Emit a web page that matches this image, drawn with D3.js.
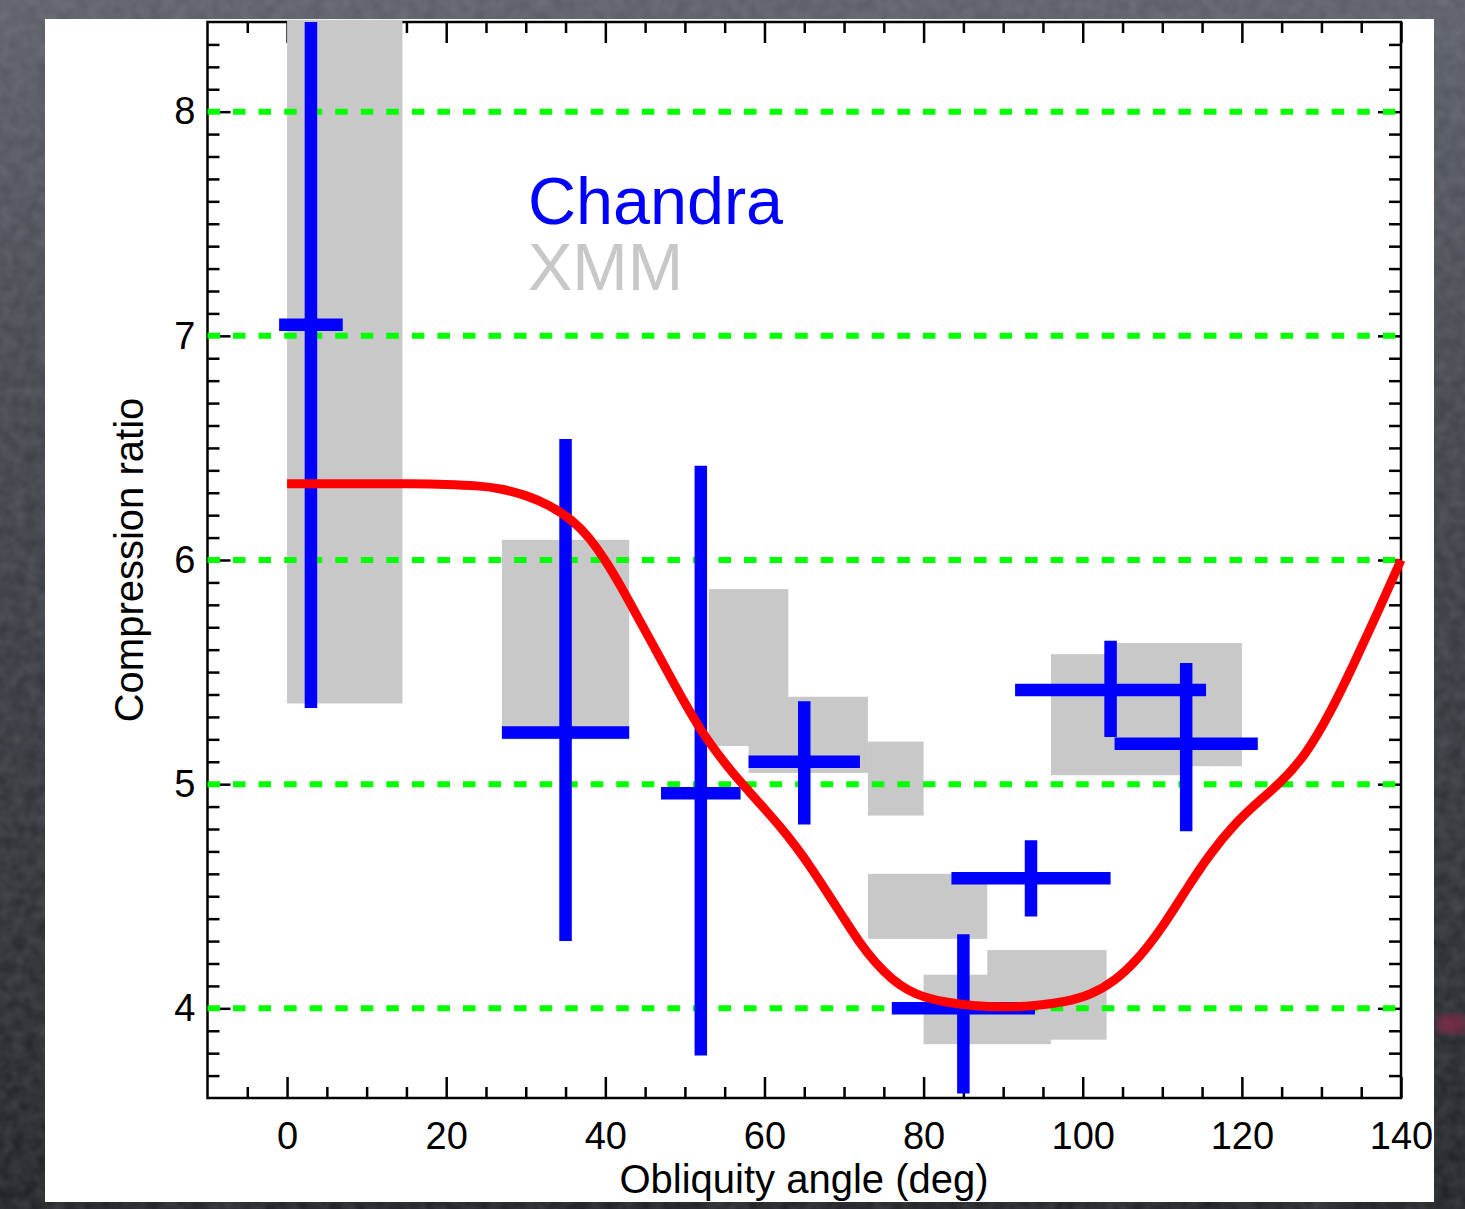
<!DOCTYPE html>
<html>
<head>
<meta charset="utf-8">
<script src="https://cdn.jsdelivr.net/npm/d3@7"></script>
<style>
  html, body { margin: 0; padding: 0; background: #2c2e33; }
  svg { display: block; }
  text { font-family: "Liberation Sans", Arial, Helvetica, sans-serif; }
</style>
</head>
<body>
<svg id="chart" width="1465" height="1209"></svg>
<script>
// ---- data -------------------------------------------------------------
// Chandra measurements: obliquity angle (deg) with range, compression ratio with range
const chandraAngle   = [3, 35, 52, 65, 85, 93.5, 103.5, 113];
const chandraAngleLo = [-1, 27, 47, 58, 76, 83.5, 91.5, 104];
const chandraAngleHi = [7, 43, 57, 72, 94, 103.5, 115.5, 122];
const chandraRatio   = [7.05, 5.23, 4.96, 5.10, 4.00, 4.58, 5.42, 5.18];
const chandraRatioLo = [5.34, 4.30, 3.79, 4.82, 3.62, 4.41, 5.21, 4.79];
const chandraRatioHi = [8.40, 6.54, 6.42, 5.37, 4.33, 4.75, 5.64, 5.54];

// XMM measurements: angle bin and compression-ratio range (boxes)
const xmmAngleLo = [0, 27, 53, 58, 73, 73, 80, 88, 96, 103.5];
const xmmAngleHi = [14.5, 43, 63, 73, 80, 88, 96, 103, 113, 120];
const xmmRatioLo = [5.36, 5.20, 5.17, 5.05, 4.86, 4.31, 3.84, 3.86, 5.04, 5.08];
const xmmRatioHi = [8.41, 6.09, 5.87, 5.39, 5.19, 4.60, 4.15, 4.26, 5.58, 5.63];

// Model curve
const fitAngle = [0, 8, 16, 20, 24, 27, 30, 33, 36, 38, 40, 42, 44, 46, 48, 50, 52, 54, 56, 58, 60,
                  62, 64, 66, 68, 70, 72, 74, 76, 78, 80, 83, 86, 90, 94, 98, 101, 104, 107, 110,
                  113, 116, 119, 122, 125, 128, 131, 134, 137, 140];
const fitRatio = [6.34, 6.34, 6.34, 6.338, 6.332, 6.318, 6.29, 6.245, 6.175, 6.10, 6.00, 5.88, 5.75, 5.62, 5.49, 5.36, 5.24, 5.14, 5.05, 4.97, 4.89,
                  4.81, 4.72, 4.62, 4.51, 4.40, 4.29, 4.20, 4.13, 4.08, 4.05, 4.025, 4.012, 4.005, 4.01, 4.03, 4.06, 4.12, 4.22, 4.36,
                  4.53, 4.69, 4.82, 4.92, 5.01, 5.13, 5.31, 5.53, 5.76, 6.00];

// Axis ticks
const xMajorTicks = [0, 20, 40, 60, 80, 100, 120, 140];
const xTickLabels = ["0", "20", "40", "60", "80", "100", "120", "140"];
const xMinorTicks = d3.range(-5, 140, 5).filter(v => v % 20 !== 0);
const yMajorTicks = [4, 5, 6, 7, 8];
const yTickLabels = ["4", "5", "6", "7", "8"];
const yMinorTicks = d3.range(37, 84).map(v => v / 10).filter(v => Math.abs(v - Math.round(v)) > 1e-6);
const gridLevels  = [4, 5, 6, 7, 8];

const legendLabels = ["Chandra", "XMM"];

// ---- layout -----------------------------------------------------------
const W = 1465, H = 1209;
const svg = d3.select("#chart");

const x = d3.scaleLinear().domain([-10, 140]).range([207.5, 1401]);
const y = d3.scaleLinear().domain([3.6, 8.4]).range([1098, 22]);

const BLUE = "#0000ff", GREY = "#c8c8c8", GREEN = "#00ff00", RED = "#ff0000";

// dark slate background
const defs = svg.append("defs");
const bg = defs.append("linearGradient").attr("id", "bg").attr("x1", 0).attr("y1", 0).attr("x2", 0).attr("y2", 1);
bg.append("stop").attr("offset", "0%").attr("stop-color", "#585c64");
bg.append("stop").attr("offset", "35%").attr("stop-color", "#3d4047");
bg.append("stop").attr("offset", "100%").attr("stop-color", "#1c1d20");
const grain = defs.append("filter").attr("id", "grain").attr("x", 0).attr("y", 0).attr("width", "100%").attr("height", "100%");
grain.append("feTurbulence").attr("type", "fractalNoise").attr("baseFrequency", 0.08).attr("numOctaves", 2).attr("seed", 3);
grain.append("feColorMatrix").attr("type", "matrix")
  .attr("values", "0 0 0 0 0.5  0 0 0 0 0.52  0 0 0 0 0.56  0 0 0 0.22 0");
const smear = defs.append("filter").attr("id", "smear");
smear.append("feGaussianBlur").attr("stdDeviation", 4);

svg.append("rect").attr("width", W).attr("height", H).attr("fill", "url(#bg)");
svg.append("rect").attr("width", W).attr("height", H).attr("filter", "url(#grain)");
svg.append("ellipse").attr("cx", 1452).attr("cy", 1024).attr("rx", 16).attr("ry", 10)
  .attr("fill", "#8a2a4e").attr("opacity", 0.75).attr("filter", "url(#smear)");

// white figure panel
svg.append("rect").attr("x", 45).attr("y", 19).attr("width", 1389).attr("height", 1183).attr("fill", "#ffffff");

// ---- axes (ticks point inward) -----------------------------------------
function styleAxis(g) {
  g.select(".domain").remove();
  g.selectAll(".tick line").attr("stroke", "#000").attr("stroke-width", 2.5);
  g.selectAll(".tick text").attr("fill", "#000").attr("font-size", 38)
    .attr("font-family", "'Liberation Sans', Arial, Helvetica, sans-serif");
}

svg.append("g").attr("transform", `translate(0,${y.range()[0]})`)
  .call(d3.axisBottom(x).tickValues(xMajorTicks).tickSize(-21).tickPadding(24)
    .tickFormat((d, i) => xTickLabels[i]))
  .call(styleAxis);
svg.append("g").attr("transform", `translate(0,${y.range()[0]})`)
  .call(d3.axisBottom(x).tickValues(xMinorTicks).tickSize(-11).tickFormat(""))
  .call(styleAxis);
svg.append("g").attr("transform", `translate(0,${y.range()[1]})`)
  .call(d3.axisTop(x).tickValues(xMajorTicks).tickSize(-21).tickFormat(""))
  .call(styleAxis);
svg.append("g").attr("transform", `translate(0,${y.range()[1]})`)
  .call(d3.axisTop(x).tickValues(xMinorTicks).tickSize(-11).tickFormat(""))
  .call(styleAxis);

svg.append("g").attr("transform", `translate(${x.range()[0]},0)`)
  .call(d3.axisLeft(y).tickValues(yMajorTicks).tickSize(-23).tickPadding(12)
    .tickFormat((d, i) => yTickLabels[i]))
  .call(styleAxis);
svg.append("g").attr("transform", `translate(${x.range()[0]},0)`)
  .call(d3.axisLeft(y).tickValues(yMinorTicks).tickSize(-12).tickFormat(""))
  .call(styleAxis);
svg.append("g").attr("transform", `translate(${x.range()[1]},0)`)
  .call(d3.axisRight(y).tickValues(yMajorTicks).tickSize(-23).tickFormat(""))
  .call(styleAxis);
svg.append("g").attr("transform", `translate(${x.range()[1]},0)`)
  .call(d3.axisRight(y).tickValues(yMinorTicks).tickSize(-12).tickFormat(""))
  .call(styleAxis);

svg.append("rect")
  .attr("x", x.range()[0]).attr("y", y.range()[1])
  .attr("width", x.range()[1] - x.range()[0]).attr("height", y.range()[0] - y.range()[1])
  .attr("fill", "none").attr("stroke", "#000").attr("stroke-width", 2.5);

// axis titles
svg.append("text").attr("x", 804).attr("y", 1193).attr("text-anchor", "middle")
  .attr("font-size", 40).attr("fill", "#000").text("Obliquity angle (deg)");
svg.append("text").attr("transform", "translate(143,560) rotate(-90)").attr("text-anchor", "middle")
  .attr("font-size", 40).attr("fill", "#000").text("Compression ratio");

// ---- XMM boxes --------------------------------------------------------
svg.append("g").selectAll("rect").data(d3.range(xmmAngleLo.length)).join("rect")
  .attr("x", i => x(xmmAngleLo[i]))
  .attr("width", i => x(xmmAngleHi[i]) - x(xmmAngleLo[i]))
  .attr("y", i => y(xmmRatioHi[i]))
  .attr("height", i => y(xmmRatioLo[i]) - y(xmmRatioHi[i]))
  .attr("fill", GREY);

// ---- dashed reference levels ------------------------------------------
svg.append("g").selectAll("line").data(gridLevels).join("line")
  .attr("x1", x.range()[0]).attr("x2", x.range()[1])
  .attr("y1", d => y(d)).attr("y2", d => y(d))
  .attr("stroke", GREEN).attr("stroke-width", 6).attr("stroke-dasharray", "12.5 13.05");

// ---- Chandra error crosses ------------------------------------------
const ch = svg.append("g").attr("stroke", BLUE).attr("stroke-width", 12.5).attr("stroke-linecap", "butt");
ch.selectAll("line.v").data(d3.range(chandraAngle.length)).join("line").attr("class", "v")
  .attr("x1", i => x(chandraAngle[i])).attr("x2", i => x(chandraAngle[i]))
  .attr("y1", i => y(chandraRatioLo[i])).attr("y2", i => y(chandraRatioHi[i]));
ch.selectAll("line.h").data(d3.range(chandraAngle.length)).join("line").attr("class", "h")
  .attr("x1", i => x(chandraAngleLo[i])).attr("x2", i => x(chandraAngleHi[i]))
  .attr("y1", i => y(chandraRatio[i])).attr("y2", i => y(chandraRatio[i]));

// ---- model curve ------------------------------------------------------
const line = d3.line().x(i => x(fitAngle[i])).y(i => y(fitRatio[i])).curve(d3.curveBasis);
svg.append("path").datum(d3.range(fitAngle.length)).attr("d", line)
  .attr("fill", "none").attr("stroke", RED).attr("stroke-width", 9)
  .attr("stroke-linecap", "butt").attr("stroke-linejoin", "round");

// ---- legend -----------------------------------------------------------
svg.append("text").attr("x", 528).attr("y", 224).attr("font-size", 66.5).attr("fill", BLUE).text(legendLabels[0]);
svg.append("text").attr("x", 528).attr("y", 290).attr("font-size", 66.5).attr("fill", GREY).text(legendLabels[1]);
</script>
</body>
</html>
